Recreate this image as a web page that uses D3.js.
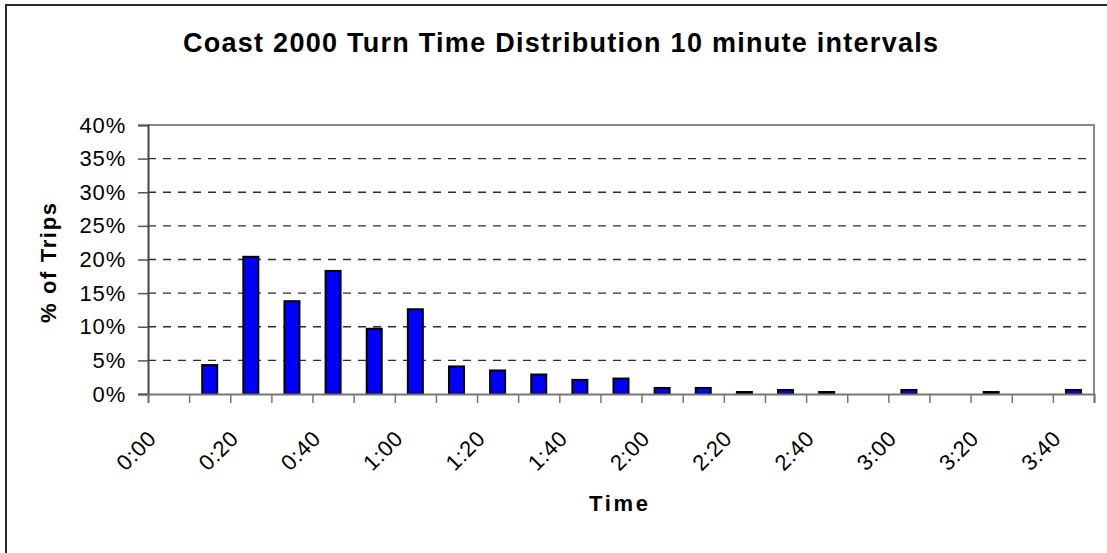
<!DOCTYPE html>
<html>
<head>
<meta charset="utf-8">
<script src="https://cdn.jsdelivr.net/npm/d3@7"></script>
<style>
  body { margin: 0; background: #fff; }
  text { font-family: "Liberation Sans", Arial, sans-serif; fill: #000; }
</style>
</head>
<body>
<svg id="chart" width="1107" height="553"></svg>
<script>
// Turn time buckets (10 minute intervals)
const categories = ["0:00","0:10","0:20","0:30","0:40","0:50","1:00","1:10","1:20","1:30","1:40","1:50",
                    "2:00","2:10","2:20","2:30","2:40","2:50","3:00","3:10","3:20","3:30","3:40"];
// Share of trips in each bucket (%)
const tripShare = [0, 4.3, 20.4, 13.8, 18.3, 9.7, 12.6, 4.1, 3.5, 2.9, 2.1, 2.3,
                   0.9, 0.9, 0.3, 0.6, 0.3, 0, 0.6, 0, 0.3, 0, 0.6];
// Value axis ticks (%)
const yTicks = [0, 5, 10, 15, 20, 25, 30, 35, 40];
// Category labels shown on the time axis
const xLabels = categories.filter((d, i) => i % 2 === 0);

const svg = d3.select("#chart");
const plot = { left: 148, right: 1094, top: 125, bottom: 394 };

const x = d3.scaleBand().domain(categories).range([plot.left, plot.right]).padding(0);
const xEdge = d3.scaleLinear().domain([0, categories.length]).range([plot.left, plot.right]);
const y = d3.scaleLinear().domain([0, 40]).range([plot.bottom, plot.top]);

// outer chart frame
svg.append("rect")
  .attr("x", 6).attr("y", 5).attr("width", 1200).attr("height", 700)
  .attr("fill", "none").attr("stroke", "#2a2a2a").attr("stroke-width", 2);

// dashed gridlines
svg.append("g")
  .selectAll("line")
  .data(yTicks.filter(t => t > 0 && t < 40))
  .join("line")
  .attr("x1", plot.left).attr("x2", plot.right)
  .attr("y1", d => y(d)).attr("y2", d => y(d))
  .attr("stroke", "#2e2e2e").attr("stroke-width", 1.3)
  .attr("stroke-dasharray", "8,7");

// plot area top / right border
svg.append("path")
  .attr("d", `M${plot.left},${y(40)}H${plot.right}V${plot.bottom}`)
  .attr("fill", "none").attr("stroke", "#888").attr("stroke-width", 2);

// bars
const barW = 15;
svg.append("g")
  .selectAll("rect")
  .data(categories.map((c, i) => ({ c, v: tripShare[i] })).filter(d => d.v > 0))
  .join("rect")
  .attr("x", d => x(d.c) + (x.bandwidth() - barW) / 2)
  .attr("width", barW)
  .attr("y", d => y(d.v))
  .attr("height", d => y(0) - y(d.v))
  .attr("fill", "#0000ff")
  .attr("stroke", "#000").attr("stroke-width", 2);

// y axis
const yAxis = svg.append("g")
  .attr("transform", `translate(${plot.left},0)`)
  .call(d3.axisLeft(y).tickValues(yTicks).tickSize(10).tickPadding(12).tickFormat(d => d + "%"));
yAxis.select(".domain").attr("stroke", "#444").attr("stroke-width", 2);
yAxis.selectAll(".tick line").attr("stroke", "#555").attr("stroke-width", 1.5);
yAxis.selectAll(".tick text")
  .attr("font-size", 22).attr("letter-spacing", 0.8)
  .style("font-family", '"Liberation Sans", Arial, sans-serif');

// x axis: ticks at category boundaries
const xAxis = svg.append("g")
  .attr("transform", `translate(0,${plot.bottom})`)
  .call(d3.axisBottom(xEdge).tickValues(d3.range(categories.length + 1)).tickSize(9).tickFormat(""));
xAxis.select(".domain").attr("stroke", "#777").attr("stroke-width", 2);
xAxis.selectAll(".tick line").attr("stroke", "#777").attr("stroke-width", 1.5);

// rotated category labels
svg.append("g")
  .selectAll("text")
  .data(xLabels)
  .join("text")
  .attr("transform", d => `translate(${x(d) + x.bandwidth() / 2 - 11},${plot.bottom + 46}) rotate(-45)`)
  .attr("text-anchor", "end")
  .attr("font-size", 22).attr("letter-spacing", 0.6)
  .text(d => d);

// titles
svg.append("text")
  .attr("x", 560.5).attr("y", 52)
  .attr("text-anchor", "middle")
  .attr("font-size", 27).attr("font-weight", "bold")
  .attr("textLength", 755).attr("lengthAdjust", "spacing")
  .text("Coast 2000 Turn Time Distribution 10 minute intervals");

svg.append("text")
  .attr("x", 618.5).attr("y", 511)
  .attr("text-anchor", "middle")
  .attr("font-size", 22).attr("font-weight", "bold")
  .attr("textLength", 59).attr("lengthAdjust", "spacing")
  .text("Time");

svg.append("text")
  .attr("transform", "translate(56,263) rotate(-90)")
  .attr("text-anchor", "middle")
  .attr("font-size", 22).attr("font-weight", "bold")
  .attr("textLength", 120).attr("lengthAdjust", "spacing")
  .text("% of Trips");
</script>
</body>
</html>
